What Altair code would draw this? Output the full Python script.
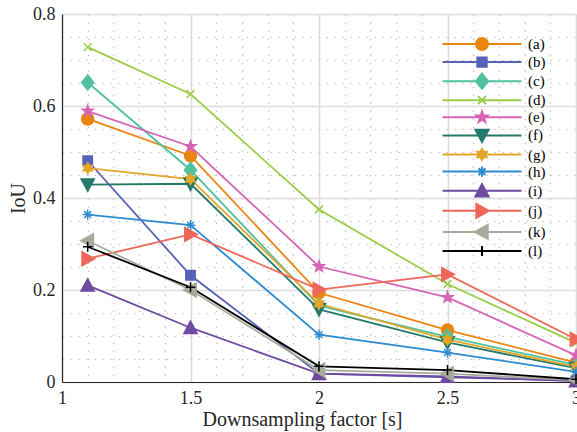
import math
import altair as alt
import pandas as pd

# ---------------- data ----------------
factors = [1.1, 1.5, 2.0, 2.5, 3.0]
series_names = ["(a)", "(b)", "(c)", "(d)", "(e)", "(f)", "(g)", "(h)", "(i)", "(j)", "(k)", "(l)"]

iou_a = [0.572, 0.492, 0.194, 0.113, 0.042]
iou_b = [0.481, 0.232, 0.018, 0.010, 0.003]
iou_c = [0.651, 0.461, 0.166, 0.098, 0.037]
iou_d = [0.728, 0.626, 0.375, 0.213, 0.085]
iou_e = [0.589, 0.512, 0.251, 0.184, 0.058]
iou_f = [0.429, 0.431, 0.158, 0.086, 0.030]
iou_g = [0.465, 0.441, 0.170, 0.092, 0.033]
iou_h = [0.364, 0.341, 0.103, 0.064, 0.022]
iou_i = [0.210, 0.118, 0.018, 0.012, 0.002]
iou_j = [0.268, 0.321, 0.201, 0.234, 0.093]
iou_k = [0.307, 0.200, 0.026, 0.018, 0.004]
iou_l = [0.294, 0.206, 0.034, 0.026, 0.006]

all_series = [iou_a, iou_b, iou_c, iou_d, iou_e, iou_f, iou_g, iou_h, iou_i, iou_j, iou_k, iou_l]

colors = ["#EA8511", "#5662B6", "#50C1A0", "#9BCD4A", "#D565B5", "#237A6A",
          "#E2A62A", "#2D8BD1", "#6E4AA1", "#EF665A", "#A8AB9B", "#000000"]

x_ticks = [1.0, 1.1, 1.2, 1.3, 1.4, 1.5, 1.6, 1.7, 1.8, 1.9, 2.0,
           2.1, 2.2, 2.3, 2.4, 2.5, 2.6, 2.7, 2.8, 2.9, 3.0]
y_ticks = [0.0, 0.05, 0.1, 0.15, 0.2, 0.25, 0.3, 0.35, 0.4, 0.45, 0.5,
           0.55, 0.6, 0.65, 0.7, 0.75, 0.8]

rows = []
for name, vals in zip(series_names, all_series):
    for f, v in zip(factors, vals):
        rows.append({"factor": f, "iou": v, "series": name})
df = pd.DataFrame(rows)

# ---------------- marker shapes ----------------
def poly(points):
    return "M" + "L".join(f"{x:.3f},{y:.3f}" for x, y in points) + "Z"

def star(n, R, r):
    pts = []
    for k in range(2 * n):
        ang = math.radians(-90 + k * 180 / n)
        rad = R if k % 2 == 0 else r
        pts.append((rad * math.cos(ang), rad * math.sin(ang)))
    return poly(pts)

markers = [
    "M1,0A1,1,0,1,1,-1,0A1,1,0,1,1,1,0Z",
    poly([(-0.78, -0.78), (0.78, -0.78), (0.78, 0.78), (-0.78, 0.78)]),
    poly([(0, -1.25), (1.02, 0), (0, 1.25), (-1.02, 0)]),
    "M-0.65,-0.65L0.65,0.65M-0.65,0.65L0.65,-0.65",
    star(5, 0.95, 0.38),
    poly([(-1.1, -0.95), (1.1, -0.95), (0, 1.1)]),
    star(6, 0.9, 0.52),
    "M-0.8,0L0.8,0M0,-0.85L0,0.85M-0.57,-0.57L0.57,0.57M-0.57,0.57L0.57,-0.57",
    poly([(0, -1.1), (1.1, 0.95), (-1.1, 0.95)]),
    poly([(1.15, 0), (-0.95, -1.15), (-0.95, 1.15)]),
    poly([(-1.15, 0), (0.95, -1.15), (0.95, 1.15)]),
    "M-0.8,0L0.8,0M0,-0.85L0,0.85",
]
legend_markers = ["M-6.58,0L6.58,0" + m for m in markers]

FONT = "Liberation Serif"

x_major = "abs(datum.value*2 - round(datum.value*2)) < 1e-6"
y_major = "abs(datum.value*5 - round(datum.value*5)) < 1e-6"

x_enc = alt.X(
    "factor:Q",
    scale=alt.Scale(domain=[1, 3], nice=False, zero=False),
    axis=alt.Axis(
        values=x_ticks, format="~g", labelExpr=f"{x_major} ? datum.label : ''",
        title="Downsampling factor [s]", ticks=False, labelOverlap=False, labelFlush=False,
        labelPadding=7, titlePadding=2, titleX=240,
        gridDash={"condition": {"test": x_major, "value": []}, "value": [1.5, 6.5]},
        gridColor={"condition": {"test": x_major, "value": "#dcdcdc"}, "value": "#c4c4c4"},
        gridWidth={"condition": {"test": x_major, "value": 1.5}, "value": 1.2},
    ),
)
y_enc = alt.Y(
    "iou:Q",
    scale=alt.Scale(domain=[0, 0.8], nice=False),
    axis=alt.Axis(
        values=y_ticks, format="~g", labelExpr=f"{y_major} ? datum.label : ''",
        title="IoU", ticks=False, labelOverlap=False, labelPadding=7, titlePadding=4,
        gridDash={"condition": {"test": y_major, "value": []}, "value": [1.5, 6.5]},
        gridColor={"condition": {"test": y_major, "value": "#dcdcdc"}, "value": "#c4c4c4"},
        gridWidth={"condition": {"test": y_major, "value": 1.5}, "value": 1.2},
    ),
)

color_scale = alt.Scale(domain=series_names, range=colors)

lines = alt.Chart(df).mark_line(strokeWidth=1.8).encode(
    x=x_enc, y=y_enc,
    stroke=alt.Stroke("series:N", scale=color_scale, legend=None),
)

points = alt.Chart(df).mark_point(filled=True, size=144, strokeWidth=1.5, opacity=1).encode(
    x=x_enc, y=y_enc,
    fill=alt.Fill("series:N", scale=color_scale, legend=None),
    stroke=alt.Stroke("series:N", scale=color_scale, legend=None),
    shape=alt.Shape("series:N", scale=alt.Scale(domain=series_names, range=markers), legend=None),
)

leg = alt.Legend(
    orient="none", legendX=412.5, legendY=22.5, title=None, padding=0,
    labelFont=FONT, labelFontSize=15, labelColor="#000000",
    symbolSize=144, symbolStrokeWidth=2, rowPadding=-1.9, labelOffset=38.5,
)

legend_layer = alt.Chart(df).mark_point(filled=True, size=144, strokeWidth=2, opacity=1).encode(
    x=x_enc, y=y_enc,
    fill=alt.Fill("series:N", scale=color_scale, legend=leg),
    stroke=alt.Stroke("series:N", scale=color_scale, legend=leg),
    shape=alt.Shape("series:N", scale=alt.Scale(domain=series_names, range=legend_markers), legend=leg),
).transform_filter("false")

chart = alt.layer(lines, points, legend_layer).resolve_scale(
    shape="independent", fill="independent", stroke="independent"
).properties(
    width=514, height=368,
    padding={"left": 62, "top": 14, "right": 1, "bottom": 50},
    autosize=alt.AutoSizeParams(type="none"),
    background="#ffffff",
).configure_view(stroke=None).configure_axis(
    labelFont=FONT, titleFont=FONT, labelFontSize=18, titleFontSize=20,
    titleFontWeight="normal", labelColor="#262626", titleColor="#262626",
    domainColor="#262626", domainWidth=1.2, gridOpacity=1,
).configure_legend(labelFont=FONT, labelFontSize=15, labelColor="#000000")

chart.save("out.html", embed_options={"renderer": "svg", "actions": False})
